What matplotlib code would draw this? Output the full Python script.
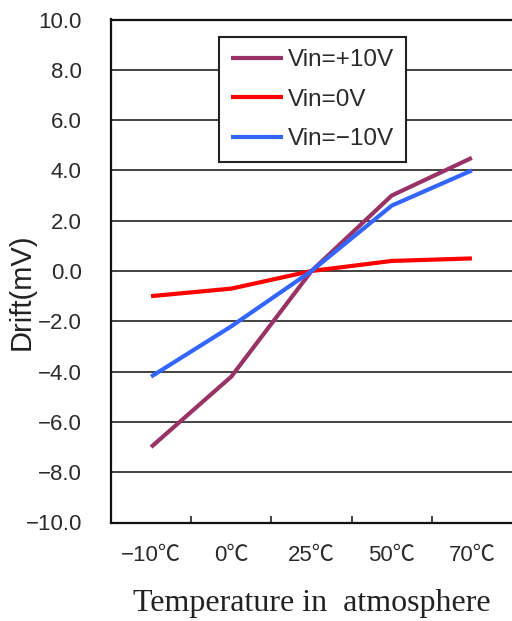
import matplotlib
matplotlib.use("Agg")
import matplotlib.pyplot as plt
from matplotlib.ticker import FixedLocator, MultipleLocator

# data
temps = ["\u221210\u2103", "0\u2103", "25\u2103", "50\u2103", "70\u2103"]
vin_p10 = [-7.0, -4.2, 0.0, 3.0, 4.5]
vin_0 = [-1.0, -0.7, 0.0, 0.4, 0.5]
vin_m10 = [-4.2, -2.2, 0.0, 2.6, 4.0]

series = [
    ("Vin=+10V", vin_p10, "#993366"),
    ("Vin=0V", vin_0, "#ff0000"),
    ("Vin=\u221210V", vin_m10, "#3366ff"),
]

fonts = ["Liberation Sans", "Noto Sans CJK JP", "DejaVu Sans"]
plt.rcParams["font.family"] = fonts
plt.rcParams["axes.unicode_minus"] = True

fig = plt.figure(figsize=(5.12, 6.21), dpi=100)
ax = fig.add_axes([111 / 512, 1 - 522.5 / 621, 1 - 111 / 512, (522.5 - 19.5) / 621])

x = list(range(len(temps)))
for label, vals, color in series:
    ax.plot(x, vals, color=color, lw=3.0, label=label, solid_capstyle="butt", zorder=3)

ax.set_xlim(-0.5, len(temps) - 0.5)
ax.set_ylim(-10, 10)

ax.yaxis.set_major_locator(MultipleLocator(2))
ax.set_yticklabels([f"{v:.1f}".replace("-", "\u2212") for v in ax.get_yticks()])
ax.grid(axis="y", color="#222222", lw=1.2, zorder=1)

ax.set_xticks(x)
ax.set_xticklabels(temps)
ax.xaxis.set_minor_locator(FixedLocator([i + 0.5 for i in range(len(temps) - 1)]))
ax.tick_params(axis="x", which="major", length=0, pad=16, labelsize=16, labelcolor="#2a2a2a")
ax.tick_params(axis="x", which="minor", direction="in", length=5, width=1.2, color="#222222")
ax.tick_params(axis="y", length=0, pad=21, labelsize=16, labelcolor="#2a2a2a")

for side in ["left", "bottom", "top"]:
    ax.spines[side].set_color("#111111")
    ax.spines[side].set_linewidth(1.6)
ax.spines["right"].set_visible(False)

leg = ax.legend(loc="upper left", bbox_to_anchor=(0.269, 0.965), fontsize=17.5,
                frameon=True, fancybox=False, handlelength=2.15, handletextpad=0.2,
                labelspacing=0.72, borderpad=0.5, borderaxespad=0)
leg.get_frame().set_edgecolor("#222222")
leg.get_frame().set_linewidth(1.5)
leg.get_frame().set_alpha(1)
for t in leg.get_texts():
    t.set_color("#2a2a2a")

fig.text(22 / 512, 1 - 292 / 621, "Drift(mV)", rotation=90, ha="center", va="center",
         fontsize=21, color="#222222")
fig.text(312 / 512, 1 - 604 / 621, "Temperature in  atmosphere", ha="center", va="center",
         fontsize=23, family="Liberation Serif", color="#222222")

fig.savefig("out.png", dpi=100, facecolor="white")
